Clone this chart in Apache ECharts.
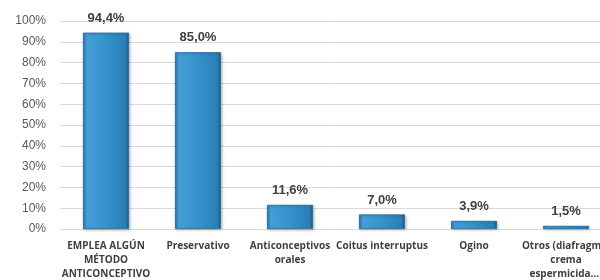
<!DOCTYPE html>
<html><head><meta charset="utf-8">
<script src="https://cdn.jsdelivr.net/npm/echarts@6/dist/echarts.min.js"></script>
<style>html,body{margin:0;padding:0;background:#fff}#c{width:600px;height:280px}</style>
</head><body><div id="c"></div>
<script>
const categories = ["EMPLEA ALGÚN\nMÉTODO\nANTICONCEPTIVO", "Preservativo", "Anticonceptivos\norales", "Coitus interruptus", "Ogino", "Otros (diafragma,\ncrema\nespermicida...)"];
const values = [94.4, 85.0, 11.6, 7.0, 3.9, 1.5];
const yTicks = [0, 10, 20, 30, 40, 50, 60, 70, 80, 90, 100];

const chart = echarts.init(document.getElementById('c'), null, {renderer: 'canvas'});
chart.setOption({
  animation: false,
  grid: {left: 60, width: 552, top: 21, height: 208, containLabel: false, outerBoundsMode: 'none'},
  xAxis: {
    type: 'category', data: categories,
    axisLine: {show: false}, axisTick: {show: false},
    axisLabel: {interval: 0, color: '#404040', fontFamily: 'Open Sans', fontWeight: 'bold', fontSize: 10, lineHeight: 14, margin: 10, hideOverlap: false}
  },
  yAxis: {
    type: 'value', min: 0, max: 100, interval: 10,
    axisLine: {show: false}, axisTick: {show: false},
    splitLine: {lineStyle: {color: '#d9d9d9', width: 1}},
    axisLabel: {color: '#595959', fontFamily: 'Liberation Sans', fontSize: 12, margin: 14,
      formatter: v => yTicks.includes(v) ? v + '%' : ''}
  },
  series: [{
    type: 'bar', data: values, barWidth: '50%',
    itemStyle: {
      color: new echarts.graphic.LinearGradient(0, 0, 1, 0, [
        {offset: 0, color: '#2677ad'},
        {offset: 0.08, color: '#449fd6'},
        {offset: 0.5, color: '#3592cb'},
        {offset: 0.92, color: '#2a80b8'},
        {offset: 1, color: '#1b5a85'}
      ]),
      borderColor: '#22679a', borderWidth: 0.8,
      shadowColor: 'rgba(0,0,0,0.25)', shadowBlur: 3, shadowOffsetX: 1, shadowOffsetY: 1
    },
    label: {show: true, position: 'top', distance: 8, color: '#404040', fontFamily: 'Liberation Sans',
      fontWeight: 'bold', fontSize: 13,
      formatter: p => p.value.toFixed(1).replace('.', ',') + '%'}
  }]
});
</script></body></html>
